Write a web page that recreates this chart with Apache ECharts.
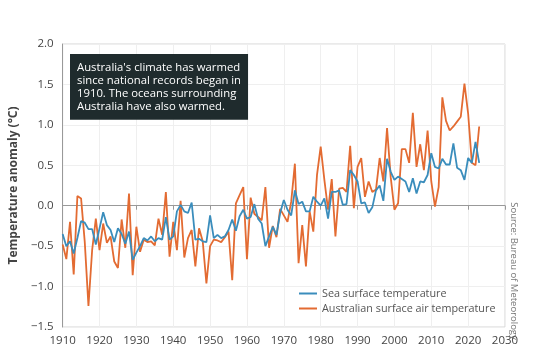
<!DOCTYPE html>
<html>
<head>
<meta charset="utf-8">
<script src="https://cdn.jsdelivr.net/npm/echarts@6/dist/echarts.min.js"></script>
<style>
html,body{margin:0;padding:0;background:#fff;}
#chart{width:540px;height:361px;}
</style>
</head>
<body>
<div id="chart"></div>
<script>
// Years 1910-2023
const years = [];
for (let y = 1910; y <= 2023; y++) years.push(y);

// Sea surface temperature anomaly (°C)
const seaSurface = [
  -0.35,-0.50,-0.44,-0.59,-0.40,-0.19,-0.21,-0.29,-0.29,-0.48,
  -0.28,-0.08,-0.24,-0.30,-0.45,-0.28,-0.35,-0.47,-0.32,-0.67,
  -0.58,-0.50,-0.40,-0.43,-0.38,-0.44,-0.40,-0.42,-0.14,-0.42,
  -0.38,-0.07,0.01,-0.07,-0.09,0.04,-0.42,-0.41,-0.44,-0.45,
  -0.12,-0.40,-0.36,-0.40,-0.38,-0.30,-0.17,-0.31,-0.13,-0.05,
  -0.16,-0.14,0.02,-0.16,-0.22,-0.50,-0.38,-0.26,-0.36,-0.09,
  0.07,-0.05,-0.12,0.19,0.02,0.05,-0.07,-0.07,0.11,0.05,
  0.00,0.09,-0.16,0.17,0.17,0.19,0.01,0.02,0.44,0.38,
  0.30,0.03,0.04,-0.09,-0.02,0.19,0.25,0.06,0.58,0.42,
  0.32,0.36,0.33,0.30,0.17,0.34,0.15,0.30,0.29,0.38,
  0.65,0.48,0.46,0.58,0.51,0.51,0.77,0.47,0.44,0.32,
  0.59,0.53,0.79,0.53
];

// Australian surface air temperature anomaly (°C)
const airTemp = [
  -0.48,-0.66,-0.20,-0.85,0.12,0.09,-0.45,-1.24,-0.55,-0.16,
  -0.55,-0.22,-0.46,-0.38,-0.69,-0.77,-0.17,-0.52,0.15,-0.86,
  -0.26,-0.57,-0.42,-0.45,-0.44,-0.49,-0.16,-0.36,0.17,-0.63,
  -0.20,-0.55,0.06,-0.64,-0.40,-0.30,-0.75,-0.28,-0.44,-0.96,
  -0.50,-0.42,-0.43,-0.45,-0.39,-0.32,-0.92,0.03,0.13,0.23,
  -0.66,0.10,-0.10,-0.14,-0.18,0.23,-0.52,-0.25,-0.39,-0.04,
  -0.12,-0.20,0.05,0.52,-0.71,-0.24,-0.75,-0.07,-0.32,0.38,
  0.73,0.32,-0.05,0.33,-0.38,0.21,0.22,0.17,0.74,-0.03,
  0.48,0.59,0.11,0.30,0.17,0.20,0.59,0.30,0.96,0.35,
  -0.05,0.03,0.70,0.70,0.53,1.15,0.48,0.76,0.44,0.93,
  0.30,-0.01,0.23,1.34,1.05,0.93,0.98,1.04,1.10,1.51,
  1.14,0.53,0.50,0.98
];

const seriesNames = ['Sea surface temperature', 'Australian surface air temperature'];
const calloutText = [
  "Australia's climate has warmed",
  'since national records began in',
  '1910. The oceans surrounding',
  'Australia have also warmed.'
];
const yAxisTitle = 'Temperature anomaly (°C)';
const sourceText = 'Source: Bureau of Meteorology';

const FONT = '"Open Sans", "Noto Sans", sans-serif';
const pairs = (arr) => years.map((y, i) => [y, arr[i]]);

const chart = echarts.init(document.getElementById('chart'), null, {renderer: 'canvas'});
chart.setOption({
  animation: false,
  textStyle: {fontFamily: FONT},
  grid: {left: 59, right: 35, top: 44, bottom: 34, show: true, borderColor: '#d4d4d4', borderWidth: 1},
  title: {
    text: calloutText.join('\n'),
    left: 70, top: 54,
    backgroundColor: '#1f2b2d',
    padding: [7, 7, 6, 7],
    textStyle: {color: '#ffffff', fontSize: 11.3, fontWeight: 'normal', lineHeight: 13.2, fontFamily: FONT}
  },
  legend: {
    data: seriesNames,
    orient: 'vertical',
    left: 294, top: 283,
    icon: 'rect',
    itemWidth: 18, itemHeight: 2,
    itemGap: 4,
    textStyle: {color: '#555', fontSize: 10.8, fontFamily: FONT}
  },
  xAxis: {
    type: 'value', min: 1910, max: 2030, interval: 10,
    axisLine: {show: true, lineStyle: {color: '#999'}},
    axisTick: {show: true, length: 4, lineStyle: {color: '#999'}},
    axisLabel: {color: '#444', fontSize: 11.5, margin: 8, fontFamily: FONT, formatter: v => String(v)},
    splitLine: {show: true, lineStyle: {color: '#efefef'}}
  },
  yAxis: {
    type: 'value', min: -1.5, max: 2.0, interval: 0.5,
    name: yAxisTitle, nameLocation: 'middle', nameGap: 29,
    nameTextStyle: {color: '#444', fontSize: 12, fontWeight: 'bold', fontFamily: FONT},
    axisLine: {show: true, lineStyle: {color: '#999'}},
    axisTick: {show: false},
    axisLabel: {color: '#444', fontSize: 11.5, margin: 9, fontFamily: FONT,
      formatter: v => (v < 0 ? '\u2212' + Math.abs(v).toFixed(1) : v.toFixed(1))},
    splitLine: {show: true, lineStyle: {color: '#efefef'}}
  },
  graphic: [{
    type: 'text',
    x: 514, y: 271,
    rotation: -Math.PI / 2,
    style: {text: sourceText, fill: '#777', font: '9.5px ' + FONT, textAlign: 'center', textVerticalAlign: 'middle'}
  }],
  series: [
    {
      name: seriesNames[1], type: 'line', data: pairs(airTemp),
      showSymbol: false, symbol: 'none', z: 2,
      lineStyle: {color: '#e36b32', width: 1.8}, itemStyle: {color: '#e36b32'}
    },
    {
      name: seriesNames[0], type: 'line', data: pairs(seaSurface),
      showSymbol: false, symbol: 'none', z: 3,
      lineStyle: {color: '#3a8dbc', width: 1.8}, itemStyle: {color: '#3a8dbc'}
    }
  ]
});
</script>
</body>
</html>
